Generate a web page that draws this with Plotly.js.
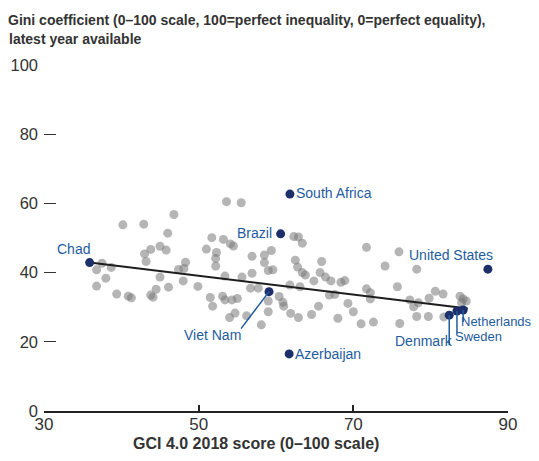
<!DOCTYPE html>
<html>
<head>
<meta charset="utf-8">
<script src="https://cdn.plot.ly/plotly-3.0.1.min.js"></script>
<style>html,body{margin:0;padding:0;background:#fff;}#chart{width:539px;height:461px;}</style>
</head>
<body>
<div id="chart"></div>
<script>
// Other economies: GCI 4.0 2018 score vs Gini coefficient
const otherGCI = [36.8,36.8,37.5,38.0,38.7,39.4,40.2,40.9,41.3,42.9,43.0,43.2,43.8,43.8,44.1,44.5,45.0,45.0,45.8,46.0,46.1,46.8,47.4,48.1,48.3,48.0,49.9,51.0,51.7,51.5,51.8,52.3,52.2,52.2,53.2,53.6,53.1,53.4,53.4,54.1,54.5,54.3,55.0,54.0,54.7,55.5,55.6,56.2,56.7,56.9,56.9,57.7,58.1,58.5,58.5,59.0,59.4,59.6,59.0,59.0,60.4,60.9,61.0,61.9,62.3,62.9,63.4,62.5,62.8,63.4,63.8,61.8,63.1,62.9,64.6,64.9,65.5,65.9,65.7,66.4,67.1,66.9,67.6,68.0,68.4,68.9,69.3,70.0,71.0,71.7,71.7,72.2,72.2,72.6,74.1,75.7,75.9,76.0,77.3,78.4,77.8,78.2,78.2,79.7,79.8,80.6,81.6,81.7,83.8,84.2,84.6,84.0];
const otherGini = [40.8,36.1,42.7,38.4,41.5,33.8,53.8,33.2,32.7,54.0,45.4,43.2,46.7,33.5,32.9,35.2,47.6,38.7,46.5,51.4,35.8,56.8,40.9,41.2,43.0,37.6,36.0,46.8,50.1,32.8,30.3,45.8,44.1,41.9,49.6,60.5,33.2,32.1,39.0,48.3,47.7,32.1,32.5,27.0,28.3,60.2,38.7,27.5,35.5,44.7,39.8,35.5,24.9,45.1,42.9,40.6,46.4,40.8,31.8,28.7,33.1,31.4,30.3,28.2,50.4,50.3,48.5,43.6,41.6,40.0,39.3,36.4,35.9,27.0,27.9,37.6,30.3,43.2,40.0,38.7,37.6,33.5,33.7,26.8,37.2,37.7,31.1,28.7,25.2,47.3,35.3,34.2,32.4,25.7,41.9,35.9,46.0,25.3,32.1,31.3,30.1,41.0,27.3,27.3,32.6,34.6,33.8,27.2,33.2,32.4,31.8,31.3];

// Highlighted economies
const hlNames = ["Chad","South Africa","Brazil","Viet Nam","Azerbaijan","United States","Denmark","Sweden","Netherlands"];
const hlGCI  = [35.9, 61.8, 60.6, 59.1, 61.7, 87.4, 82.4, 83.4, 84.2];
const hlGini = [42.9, 62.7, 51.2, 34.5, 16.5, 41.0, 27.7, 28.9, 29.2];

// Trend line end points
const trendGCI  = [35.9, 84.8];
const trendGini = [42.9, 29.6];

// Axis ticks
const xTicks = [30, 50, 70, 90];
const yTicks = [0, 20, 40, 60, 80, 100];

// Texts
const titleLine1 = 'Gini coefficient (0–100 scale, 100=perfect inequality, 0=perfect equality),';
const titleLine2 = 'latest year available';
const xTitle = 'GCI 4.0 2018 score (0–100 scale)';

const LABEL_BLUE = '#1f5c9e';
const DOT_BLUE = '#1c2f6b';
const FONT = 'Liberation Sans, Arial, sans-serif';

// label placement (pixel offsets from the point)
const labelStyle = {
  "Chad":          {xanchor:'right', yanchor:'bottom', xshift:1,  yshift:5},
  "South Africa":  {xanchor:'left',  yanchor:'middle', xshift:5,  yshift:1},
  "Brazil":        {xanchor:'right', yanchor:'middle', xshift:-8, yshift:1},
  "Viet Nam":      {xanchor:'right', yanchor:'top',    xshift:-27, yshift:-34},
  "Azerbaijan":    {xanchor:'left',  yanchor:'middle', xshift:5,  yshift:0},
  "United States": {xanchor:'right', yanchor:'bottom', xshift:6,  yshift:5},
  "Denmark":       {xanchor:'right', yanchor:'top',    xshift:5,  yshift:-17},
  "Sweden":        {xanchor:'left',  yanchor:'top',    xshift:-3, yshift:-17, size:13},
  "Netherlands":   {xanchor:'left',  yanchor:'top',    xshift:-3, yshift:-3,  size:13}
};
// leader lines (pixel offsets from the point)
const leaders = {
  "Viet Nam": [-28, 37],
  "Denmark":  [0, 30],
  "Sweden":   [0, 22],
  "Netherlands": [0, 12]
};

const traces = [
  {x: otherGCI, y: otherGini, type:'scatter', mode:'markers', hoverinfo:'skip',
   marker:{size:9, color:'rgba(120,120,120,0.55)', line:{width:0}}},
  {x: trendGCI, y: trendGini, type:'scatter', mode:'lines', hoverinfo:'skip',
   line:{color:'#1e1e1e', width:2}},
  {x: hlGCI, y: hlGini, type:'scatter', mode:'markers', hoverinfo:'skip',
   marker:{size:9, color:DOT_BLUE, line:{width:0}}}
];

const annotations = hlNames.map((n, i) => {
  const s = labelStyle[n];
  return {
    x: hlGCI[i], y: hlGini[i], xref:'x', yref:'y', text:n, showarrow:false,
    font:{family:FONT, size:s.size || 14, color:LABEL_BLUE}, borderpad:0,
    xanchor:s.xanchor, yanchor:s.yanchor, xshift:s.xshift, yshift:s.yshift
  };
});

// second title line and x-axis title
annotations.push({
  text: titleLine2, xref:'paper', yref:'paper', x:(8-44)/464, y:(411-39)/346,
  xanchor:'left', yanchor:'middle', showarrow:false, borderpad:0,
  font:{family:FONT, size:14, color:'#333', weight:'bold'}
});
annotations.push({
  text: xTitle, xref:'paper', yref:'paper', x:(256-44)/464, y:(411-443)/346,
  xanchor:'center', yanchor:'middle', showarrow:false, borderpad:0,
  font:{family:FONT, size:16, color:'#333', weight:'bold'}
});

const shapes = [];
hlNames.forEach((n, i) => {
  if (leaders[n]) {
    shapes.push({type:'line', xref:'x', yref:'y', xsizemode:'pixel', ysizemode:'pixel',
      xanchor: hlGCI[i], yanchor: hlGini[i], x0:0, y0:0, x1:leaders[n][0], y1:-leaders[n][1],
      line:{color:LABEL_BLUE, width:1.5}});
  }
});

const layout = {
  width:539, height:461,
  margin:{l:44, r:31, t:65, b:50},
  paper_bgcolor:'#fff', plot_bgcolor:'#fff',
  showlegend:false,
  font:{family:FONT, color:'#333'},
  title:{
    text: titleLine1,
    xref:'container', yref:'container', x:8/539, xanchor:'left', y:1-20/461, yanchor:'middle',
    font:{family:FONT, size:14, color:'#333', weight:'bold'}
  },
  xaxis:{
    range:[30,90], tickvals:xTicks, ticks:'inside', ticklen:6, tickwidth:2, tickcolor:'#222',
    showline:true, linewidth:2, linecolor:'#222', showgrid:false, zeroline:false,
    tickfont:{family:FONT, size:17, color:'#333'}, ticklabelstandoff:-3,
    fixedrange:true
  },
  yaxis:{
    range:[0,100], tickvals:yTicks, ticks:'inside', ticklen:12, tickwidth:1.3, tickcolor:'#333',
    showline:false, showgrid:false, zeroline:false,
    tickfont:{family:FONT, size:16.5, color:'#333'}, ticklabelstandoff:5,
    fixedrange:true
  },
  annotations: annotations,
  shapes: shapes
};

Plotly.newPlot('chart', traces, layout, {staticPlot:true, displayModeBar:false});
</script>
</body>
</html>
